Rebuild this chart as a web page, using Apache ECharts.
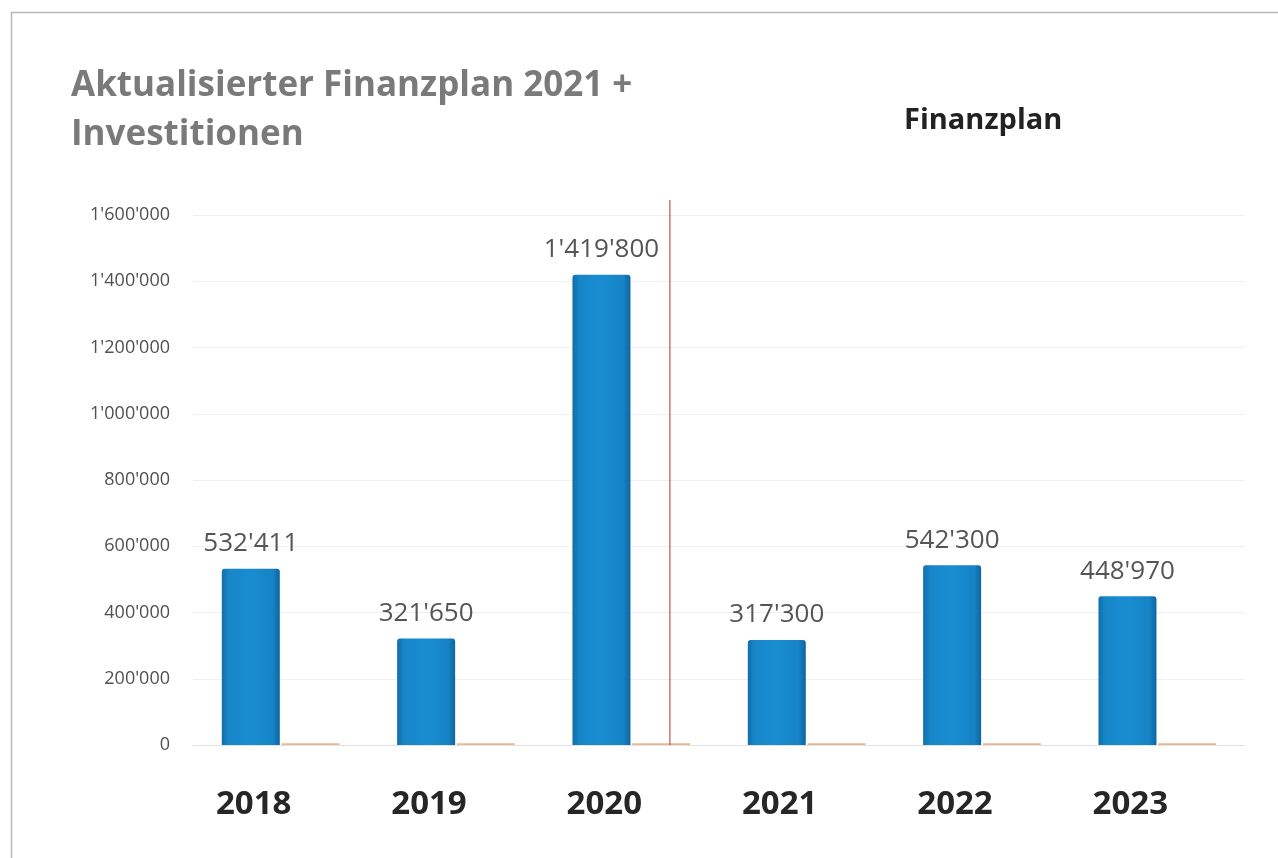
<!DOCTYPE html>
<html>
<head>
<meta charset="utf-8">
<script src="https://cdn.jsdelivr.net/npm/echarts@6/dist/echarts.min.js"></script>
<style>
html,body{margin:0;padding:0;background:#fff;}
#chart{width:1278px;height:858px;}
</style>
</head>
<body>
<div id="chart"></div>
<script>
const categories = ['2018', '2019', '2020', '2021', '2022', '2023'];
const investitionen = [532411, 321650, 1419800, 317300, 542300, 448970];
const nebenwerte = [5000, 5000, 5000, 5000, 5000, 5000];
const yTicks = [0, 200000, 400000, 600000, 800000, 1000000, 1200000, 1400000, 1600000];
const dividerLine = [[2.72, 0], [2.72, 1645000]];
const titleText = 'Aktualisierter Finanzplan 2021 +\nInvestitionen';
const sectionText = 'Finanzplan';

function fmt(v) {
  return String(Math.round(v)).replace(/\B(?=(\d{3})+(?!\d))/g, "'");
}

const FONT = '"Open Sans", Lato, sans-serif';
const chart = echarts.init(document.getElementById('chart'));
chart.setOption({
  backgroundColor: '#ffffff',
  animation: false,
  graphic: [{
    type: 'rect', silent: true,
    shape: { x: 11.5, y: 12.5, width: 1400, height: 1000 },
    style: { fill: 'none', stroke: '#b8b8b8', lineWidth: 1.5 }
  }],
  title: [{
    text: titleText, left: 66, top: 57,
    textStyle: { fontFamily: FONT, fontSize: 35, fontWeight: 'bold', color: '#7a7a7a', lineHeight: 49 }
  }, {
    text: sectionText, left: 899, top: 101,
    textStyle: { fontFamily: FONT, fontSize: 29, fontWeight: 'bold', color: '#222222' }
  }],
  grid: { left: 193, right: 33, top: 215, bottom: 113, containLabel: false },
  xAxis: [{
    type: 'category', data: categories,
    axisLine: { show: true, lineStyle: { color: '#e2e2e2', width: 1 } },
    axisTick: { show: false },
    axisLabel: { margin: 43, padding: [0, 54, 0, 0], fontFamily: FONT, fontSize: 33, fontWeight: 'bold', color: '#262626' }
  }, {
    type: 'value', min: 0, max: 6, show: false
  }],
  yAxis: {
    type: 'value', min: 0, max: yTicks[yTicks.length - 1], interval: yTicks[1] - yTicks[0],
    axisLine: { show: false }, axisTick: { show: false },
    splitLine: { lineStyle: { color: '#efefef', width: 1 } },
    axisLabel: { margin: 23, fontFamily: FONT, fontSize: 18, color: '#505050', formatter: fmt }
  },
  series: [{
    type: 'bar', name: 'Investitionen', data: investitionen,
    barWidth: 58, barGap: '3%',
    itemStyle: {
      borderRadius: [3, 3, 0, 0],
      color: new echarts.graphic.LinearGradient(0, 0, 1, 0, [
        { offset: 0, color: '#0f6ea8' },
        { offset: 0.12, color: '#1786c9' },
        { offset: 0.5, color: '#1a8dd2' },
        { offset: 0.88, color: '#1583c5' },
        { offset: 1, color: '#0d66a0' }
      ])
    },
    label: {
      show: true, position: 'top', distance: 12,
      fontFamily: FONT, fontSize: 26, color: '#555555', formatter: p => fmt(p.value)
    }
  }, {
    type: 'bar', name: 'Neben', data: nebenwerte,
    barWidth: 58,
    itemStyle: { color: '#e9b88f' }
  }, {
    type: 'line', xAxisIndex: 1, yAxisIndex: 0, data: dividerLine,
    silent: true, clip: false, showSymbol: false, symbol: 'none',
    lineStyle: { color: '#c0504d', width: 1.2 }
  }]
});
</script>
</body>
</html>
